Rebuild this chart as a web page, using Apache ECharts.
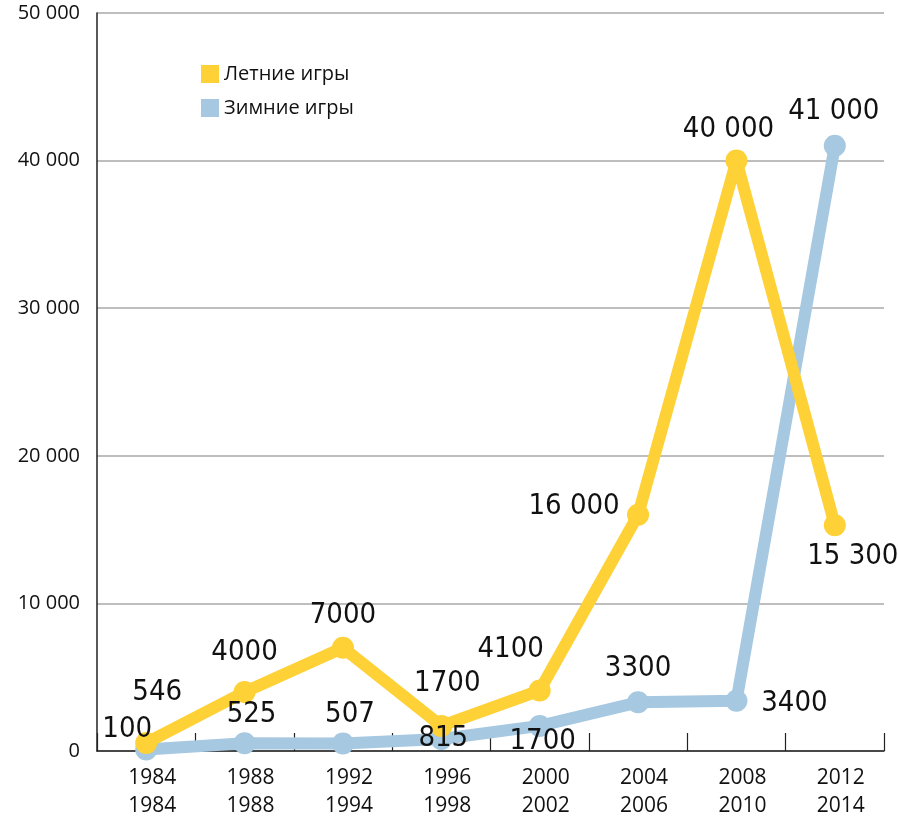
<!DOCTYPE html>
<html>
<head>
<meta charset="utf-8">
<script src="https://cdn.jsdelivr.net/npm/echarts@6/dist/echarts.min.js"></script>
<style>
  html, body { margin: 0; padding: 0; background: #fff; }
  #chart { width: 898px; height: 817px; }
</style>
</head>
<body>
<div id="chart"></div>
<script>
const categories = ['1984\n1984', '1988\n1988', '1992\n1994', '1996\n1998', '2000\n2002', '2004\n2006', '2008\n2010', '2012\n2014']
const summerName = 'Летние игры'
const winterName = 'Зимние игры'
const summerValues = [546, 4000, 7000, 1700, 4100, 16000, 40000, 15300]
const winterValues = [100, 525, 507, 815, 1700, 3300, 3400, 41000]
const yTicks = [0, 10000, 20000, 30000, 40000, 50000]

// where each value label sits relative to its point
const summerLabelOffsets = [[11, -50], [0, -39], [0, -32], [6, -42], [-29, -41], [-64, -8], [-8, -31], [18, 31]]
const winterLabelOffsets = [[-19, -20], [7, -29], [7, -29], [2, -1], [3, 16], [0, -34], [58, 3], [-1, -34]]

const fmt = v => (v >= 10000 ? String(v).replace(/\B(?=(\d{3})+(?!\d))/g, ' ') : String(v))
const labelFont = "'DejaVu Sans Condensed', 'Liberation Sans Narrow', sans-serif"
const axisFont = "'Open Sans', 'Noto Sans', sans-serif"

const toData = (values, offsets) =>
  values.map((v, i) => ({
    value: v,
    label: { show: true, position: 'inside', offset: offsets[i], formatter: fmt(v) },
  }))

const chart = echarts.init(document.getElementById('chart'))

const option = {
  backgroundColor: '#fff',
  animation: false,
  legend: {
    orient: 'vertical',
    left: 196,
    top: 59,
    itemWidth: 18,
    itemHeight: 18,
    itemGap: 14,
    icon: 'rect',
    textStyle: { color: '#111', fontSize: 20, fontFamily: axisFont },
    data: [summerName, winterName],
  },
  grid: { left: 97, right: 14, top: 13, bottom: 66, outerBoundsMode: 'none', containLabel: false },
  xAxis: {
    type: 'category',
    data: categories,
    boundaryGap: true,
    axisLine: { show: true, lineStyle: { color: '#222', width: 1.5 } },
    axisTick: { show: true, inside: true, length: 18, lineStyle: { color: '#222', width: 1.2 } },
    axisLabel: {
      color: '#111',
      fontSize: 21,
      fontFamily: axisFont,
      lineHeight: 28,
      margin: 13,
      padding: [0, 0, 0, 12],
    },
    splitLine: { show: false },
  },
  yAxis: {
    type: 'value',
    min: yTicks[0],
    max: yTicks[yTicks.length - 1],
    interval: 10000,
    axisLine: { show: true, lineStyle: { color: '#222', width: 1.5 } },
    axisTick: { show: false },
    axisLabel: {
      color: '#111',
      fontSize: 20,
      fontFamily: axisFont,
      margin: 17,
      formatter: v => String(v).replace(/\B(?=(\d{3})+(?!\d))/g, ' '),
    },
    splitLine: { show: true, lineStyle: { color: '#a8a8a8', width: 1.5 } },
  },
  series: [
    {
      name: winterName,
      type: 'line',
      z: 2,
      symbol: 'circle',
      symbolSize: 22,
      lineStyle: { color: '#a6c8e1', width: 12 },
      itemStyle: { color: '#a6c8e1' },
      label: { color: '#111', fontSize: 29, fontFamily: labelFont },
      data: toData(winterValues, winterLabelOffsets),
    },
    {
      name: summerName,
      type: 'line',
      z: 2,
      symbol: 'circle',
      symbolSize: 22,
      lineStyle: { color: '#fed136', width: 12 },
      itemStyle: { color: '#fed136' },
      label: { color: '#111', fontSize: 29, fontFamily: labelFont },
      data: toData(summerValues, summerLabelOffsets),
    },
  ],
}

chart.setOption(option)
</script>
</body>
</html>
